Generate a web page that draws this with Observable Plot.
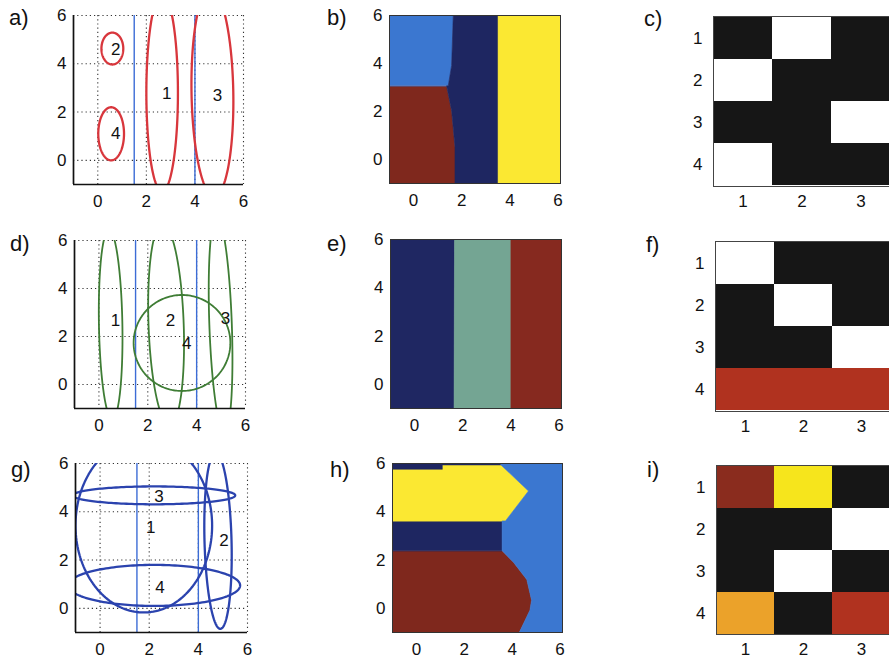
<!DOCTYPE html>
<html><head><meta charset="utf-8">
<script src="https://cdn.jsdelivr.net/npm/d3@7"></script>
<script src="https://cdn.jsdelivr.net/npm/@observablehq/plot@0.6"></script>
<style>
html,body{margin:0;padding:0;background:#fff;overflow:hidden;}
#fig{position:relative;width:889px;height:659px;overflow:hidden;background:#fff;}
#fig svg{position:absolute;overflow:visible;}
.crisp rect{shape-rendering:crispEdges;}
</style></head><body><div id="fig"></div>
<script>
// ---------------- data ----------------
const panelLetters = ["a)","b)","c)","d)","e)","f)","g)","h)","i)"];
const axisTicks = [0, 2, 4, 6];
const boundaryLinesX = [1.5, 4];
const matrixRows = [1, 2, 3, 4];
const matrixCols = [1, 2, 3];

// Gaussian contour ellipses (centre, radii, tilt in degrees)
const ellipsesA = [
  {id: 1, cx: 2.65, cy: 2.8, rx: 0.65, ry: 4.1, angle: 0},
  {id: 2, cx: 0.6, cy: 4.63, rx: 0.45, ry: 0.66, angle: 0},
  {id: 3, cx: 4.72, cy: 2.8, rx: 0.86, ry: 4.3, angle: 1},
  {id: 4, cx: 0.55, cy: 1.1, rx: 0.53, ry: 1.1, angle: 0}
];
const labelsA = [
  {text: "1", x: 2.84, y: 2.75}, {text: "2", x: 0.74, y: 4.6},
  {text: "3", x: 4.93, y: 2.7}, {text: "4", x: 0.74, y: 1.1}
];
const ellipsesD = [
  {id: 1, cx: 0.48, cy: 2.5, rx: 0.48, ry: 3.95, angle: 1},
  {id: 2, cx: 2.75, cy: 2.5, rx: 0.72, ry: 4.2, angle: 2},
  {id: 3, cx: 4.98, cy: 2.5, rx: 0.46, ry: 4.5, angle: 2},
  {id: 4, cx: 3.4, cy: 1.73, rx: 1.98, ry: 2.0, angle: 0}
];
const labelsD = [
  {text: "1", x: 0.68, y: 2.67}, {text: "2", x: 2.93, y: 2.67},
  {text: "3", x: 5.18, y: 2.76}, {text: "4", x: 3.59, y: 1.7}
];
const ellipsesG = [
  {id: 1, cx: 1.78, cy: 3.43, rx: 2.78, ry: 3.6, angle: 0},
  {id: 2, cx: 4.8, cy: 2.8, rx: 0.55, ry: 3.65, angle: 1.5},
  {id: 3, cx: 2.2, cy: 4.68, rx: 3.3, ry: 0.37, angle: 0},
  {id: 4, cx: 2.2, cy: 0.95, rx: 3.5, ry: 0.85, angle: 0}
];
const labelsG = [
  {text: "1", x: 2.06, y: 3.35}, {text: "2", x: 5.04, y: 2.82},
  {text: "3", x: 2.4, y: 4.63}, {text: "4", x: 2.44, y: 0.88}
];

// classification maps: horizontal bands of each region (y, left x1, right x2)
const classColorsBH = {domain: ["1", "2", "3", "4"], range: ["#1e2661", "#3b77d0", "#fbe832", "#7f281d"]};
const classColorsE = {domain: ["1", "2", "3"], range: ["#1f2762", "#74a593", "#86291f"]};
const mapB = [
  {region: "r4", cls: "4", y: -1.05, x1: -1.05, x2: 1.74},
  {region: "r4", cls: "4", y: 0.5, x1: -1.05, x2: 1.74},
  {region: "r4", cls: "4", y: 2, x1: -1.05, x2: 1.6},
  {region: "r4", cls: "4", y: 3.05, x1: -1.05, x2: 1.39},
  {region: "r2", cls: "2", y: 3.05, x1: -1.05, x2: 1.46},
  {region: "r2", cls: "2", y: 3.9, x1: -1.05, x2: 1.6},
  {region: "r2", cls: "2", y: 6.05, x1: -1.05, x2: 1.67},
  {region: "r1", cls: "1", y: -1.05, x1: 1.74, x2: 3.53},
  {region: "r1", cls: "1", y: 0.5, x1: 1.74, x2: 3.53},
  {region: "r1", cls: "1", y: 2, x1: 1.6, x2: 3.53},
  {region: "r1", cls: "1", y: 3.05, x1: 1.39, x2: 3.53},
  {region: "r1", cls: "1", y: 3.05, x1: 1.46, x2: 3.53},
  {region: "r1", cls: "1", y: 3.9, x1: 1.6, x2: 3.53},
  {region: "r1", cls: "1", y: 6.05, x1: 1.67, x2: 3.53},
  {region: "r3", cls: "3", y: -1.05, x1: 3.53, x2: 6.15},
  {region: "r3", cls: "3", y: 6.05, x1: 3.53, x2: 6.15}
];
const mapE = [
  {region: "r1", cls: "1", y: -1.05, x1: -1.05, x2: 1.66},
  {region: "r1", cls: "1", y: 6.05, x1: -1.05, x2: 1.68},
  {region: "r2", cls: "2", y: -1.05, x1: 1.66, x2: 4.02},
  {region: "r2", cls: "2", y: 6.05, x1: 1.68, x2: 4.02},
  {region: "r3", cls: "3", y: -1.05, x1: 4.02, x2: 6.15},
  {region: "r3", cls: "3", y: 6.05, x1: 4.02, x2: 6.15}
];
const mapH = [
  {region: "r4", cls: "4", y: -1.05, x1: -1.05, x2: 4.3},
  {region: "r4", cls: "4", y: -0.1, x1: -1.05, x2: 4.76},
  {region: "r4", cls: "4", y: 0.32, x1: -1.05, x2: 4.83},
  {region: "r4", cls: "4", y: 1.17, x1: -1.05, x2: 4.63},
  {region: "r4", cls: "4", y: 1.88, x1: -1.05, x2: 4.08},
  {region: "r4", cls: "4", y: 2.37, x1: -1.05, x2: 3.6},
  {region: "r1a", cls: "1", y: 2.37, x1: -1.05, x2: 3.6},
  {region: "r1a", cls: "1", y: 3.6, x1: -1.05, x2: 3.6},
  {region: "r3", cls: "3", y: 3.6, x1: -1.05, x2: 3.74},
  {region: "r3", cls: "3", y: 4.84, x1: -1.05, x2: 4.7},
  {region: "r3", cls: "3", y: 5.75, x1: -1.05, x2: 3.73},
  {region: "r3", cls: "3", y: 5.75, x1: 1.1, x2: 3.73},
  {region: "r3", cls: "3", y: 5.92, x1: 1.1, x2: 3.55},
  {region: "r1b", cls: "1", y: 5.75, x1: -1.05, x2: 1.1},
  {region: "r1b", cls: "1", y: 5.92, x1: -1.05, x2: 1.1},
  {region: "r1b", cls: "1", y: 5.92, x1: -1.05, x2: 3.55},
  {region: "r1b", cls: "1", y: 6.05, x1: -1.05, x2: 3.55},
  {region: "r2", cls: "2", y: -1.05, x1: 4.3, x2: 6.15},
  {region: "r2", cls: "2", y: -0.1, x1: 4.76, x2: 6.15},
  {region: "r2", cls: "2", y: 0.32, x1: 4.83, x2: 6.15},
  {region: "r2", cls: "2", y: 1.17, x1: 4.63, x2: 6.15},
  {region: "r2", cls: "2", y: 1.88, x1: 4.08, x2: 6.15},
  {region: "r2", cls: "2", y: 2.37, x1: 3.6, x2: 6.15},
  {region: "r2", cls: "2", y: 3.6, x1: 3.6, x2: 6.15},
  {region: "r2", cls: "2", y: 3.6, x1: 3.74, x2: 6.15},
  {region: "r2", cls: "2", y: 4.84, x1: 4.7, x2: 6.15},
  {region: "r2", cls: "2", y: 5.92, x1: 3.55, x2: 6.15},
  {region: "r2", cls: "2", y: 6.05, x1: 3.5, x2: 6.15}
];

// assignment matrices (rows 1-4 x columns 1-3), values on a "hot" colour map
const matrixC = [[0, 1, 0], [1, 0, 0], [0, 0, 1], [1, 0, 0]];
const matrixF = [[1, 0, 0], [0, 1, 0], [0, 0, 1], [0.27, 0.27, 0.27]];
const matrixI = [[0.2, 0.72, 0], [0, 0, 1], [0, 1, 0], [0.6, 0, 0.27]];
const hotValues = [0, 0.2, 0.27, 0.6, 0.72, 1];
const hotColors = ["#161616", "#8a2c1e", "#b0321f", "#eba22a", "#f6e51c", "#ffffff"];

// ---------------- drawing ----------------
const FONT = '"Liberation Sans", Arial, Helvetica, sans-serif';
const fig = document.getElementById("fig");
const M = {l: 45, t: 8, r: 8, b: 34};
const intFmt = d3.format("d");

function place(svg, left, top) {
  svg.style.left = left + "px";
  svg.style.top = top + "px";
  fig.appendChild(svg);
}

function ellipsePath(e) {
  const n = 180, th = e.angle * Math.PI / 180;
  return d3.range(n + 1).map(k => {
    const t = 2 * Math.PI * k / n;
    const u = e.rx * Math.cos(t), v = e.ry * Math.sin(t);
    return {id: e.id, x: e.cx + u * Math.cos(th) - v * Math.sin(th), y: e.cy + u * Math.sin(th) + v * Math.cos(th)};
  });
}

const baseStyle = {fontFamily: FONT, fontSize: "17px", color: "#111", background: "transparent"};

function ellipsePanel(fl, ft, fw, fh, ellipses, labels, color, sw) {
  const pts = ellipses.flatMap(ellipsePath);
  const svg = Plot.plot({
    width: M.l + fw + M.r, height: M.t + fh + M.b,
    marginLeft: M.l, marginTop: M.t, marginRight: M.r, marginBottom: M.b,
    style: baseStyle,
    x: {domain: [-1, 6], ticks: axisTicks, tickFormat: intFmt, tickSize: 0, tickPadding: 10, label: null},
    y: {domain: [-1, 6], ticks: axisTicks, tickFormat: intFmt, tickSize: 0, tickPadding: 7, label: null},
    marks: [
      Plot.ruleX(axisTicks, {stroke: "#333", strokeWidth: 1.1, strokeDasharray: "1.2,3"}),
      Plot.ruleY(axisTicks, {stroke: "#333", strokeWidth: 1.1, strokeDasharray: "1.2,3"}),
      Plot.ruleX(boundaryLinesX, {stroke: "#3c6cd6", strokeWidth: 1.4}),
      Plot.line(pts, {x: "x", y: "y", z: "id", stroke: color, strokeWidth: sw, clip: true}),
      Plot.text(labels, {x: "x", y: "y", text: "text", fontSize: 17, fill: "#111"}),
      Plot.ruleX([-1], {stroke: "#111", strokeWidth: 1.7}),
      Plot.ruleY([-1], {stroke: "#111", strokeWidth: 1.7})
    ]
  });
  place(svg, fl - M.l, ft - M.t);
}

function mapPanel(fl, ft, fw, fh, rows, colors) {
  const svg = Plot.plot({
    width: M.l + fw + M.r, height: M.t + fh + M.b,
    marginLeft: M.l, marginTop: M.t, marginRight: M.r, marginBottom: M.b,
    style: baseStyle,
    x: {domain: [-1, 6.1], ticks: axisTicks, tickFormat: intFmt, tickSize: 0, tickPadding: 10, label: null},
    y: {domain: [-1, 6], ticks: axisTicks, tickFormat: intFmt, tickSize: 0, tickPadding: 7, label: null},
    color: {type: "ordinal", domain: colors.domain, range: colors.range},
    marks: [
      Plot.areaX(rows, {y: "y", x1: "x1", x2: "x2", z: "region", fill: "cls", stroke: "cls", strokeWidth: 0.6, clip: true}),
      Plot.frame({stroke: "#333", strokeWidth: 1})
    ]
  });
  place(svg, fl - M.l, ft - M.t);
}

function matrixPanel(fl, ft, fw, fh, matrix) {
  const cells = matrix.flatMap((r, i) => r.map((v, j) => ({row: matrixRows[i], col: matrixCols[j], v})));
  const svg = Plot.plot({
    width: M.l + fw, height: M.t + fh + M.b,
    marginLeft: M.l, marginTop: M.t, marginRight: 0, marginBottom: M.b,
    className: "crisp",
    style: baseStyle,
    x: {type: "band", domain: matrixCols, padding: 0, tickSize: 0, tickPadding: 8, label: null},
    y: {type: "band", domain: matrixRows, padding: 0, tickSize: 0, tickPadding: 11, label: null},
    color: {type: "ordinal", domain: hotValues, range: hotColors},
    marks: [
      Plot.cell(cells, {x: "col", y: "row", fill: "v", inset: 0}),
      Plot.frame({stroke: "#444", strokeWidth: 1})
    ]
  });
  svg.classList.add("crisp");
  place(svg, fl - M.l, ft - M.t);
}

// row 1
ellipsePanel(73, 15, 170, 169, ellipsesA, labelsA, "#d8363c", 2.3);
mapPanel(389, 15, 171, 168, mapB, classColorsBH);
matrixPanel(713, 16, 177, 170, matrixC);
// row 2
ellipsePanel(74, 240, 171, 168, ellipsesD, labelsD, "#3f7d35", 1.8);
mapPanel(390, 239, 171, 169, mapE, classColorsE);
matrixPanel(715, 241, 175, 170, matrixF);
// row 3
ellipsePanel(75, 463, 172, 169, ellipsesG, labelsG, "#2b43ae", 2.3);
mapPanel(392, 463, 170, 169, mapH, classColorsBH);
matrixPanel(716, 465, 174, 169, matrixI);

// panel letters
const letterPos = [[9, 25], [327, 25], [644, 26], [10, 251], [327, 251], [646, 252], [11, 477], [330, 477], [647, 477]];
const over = d3.create("svg").attr("width", 889).attr("height", 659).style("left", "0px").style("top", "0px");
over.selectAll("text").data(panelLetters).join("text")
  .attr("x", (d, i) => letterPos[i][0]).attr("y", (d, i) => letterPos[i][1])
  .attr("font-family", FONT).attr("font-size", 22).attr("fill", "#111").text(d => d);
fig.appendChild(over.node());
</script></body></html>
